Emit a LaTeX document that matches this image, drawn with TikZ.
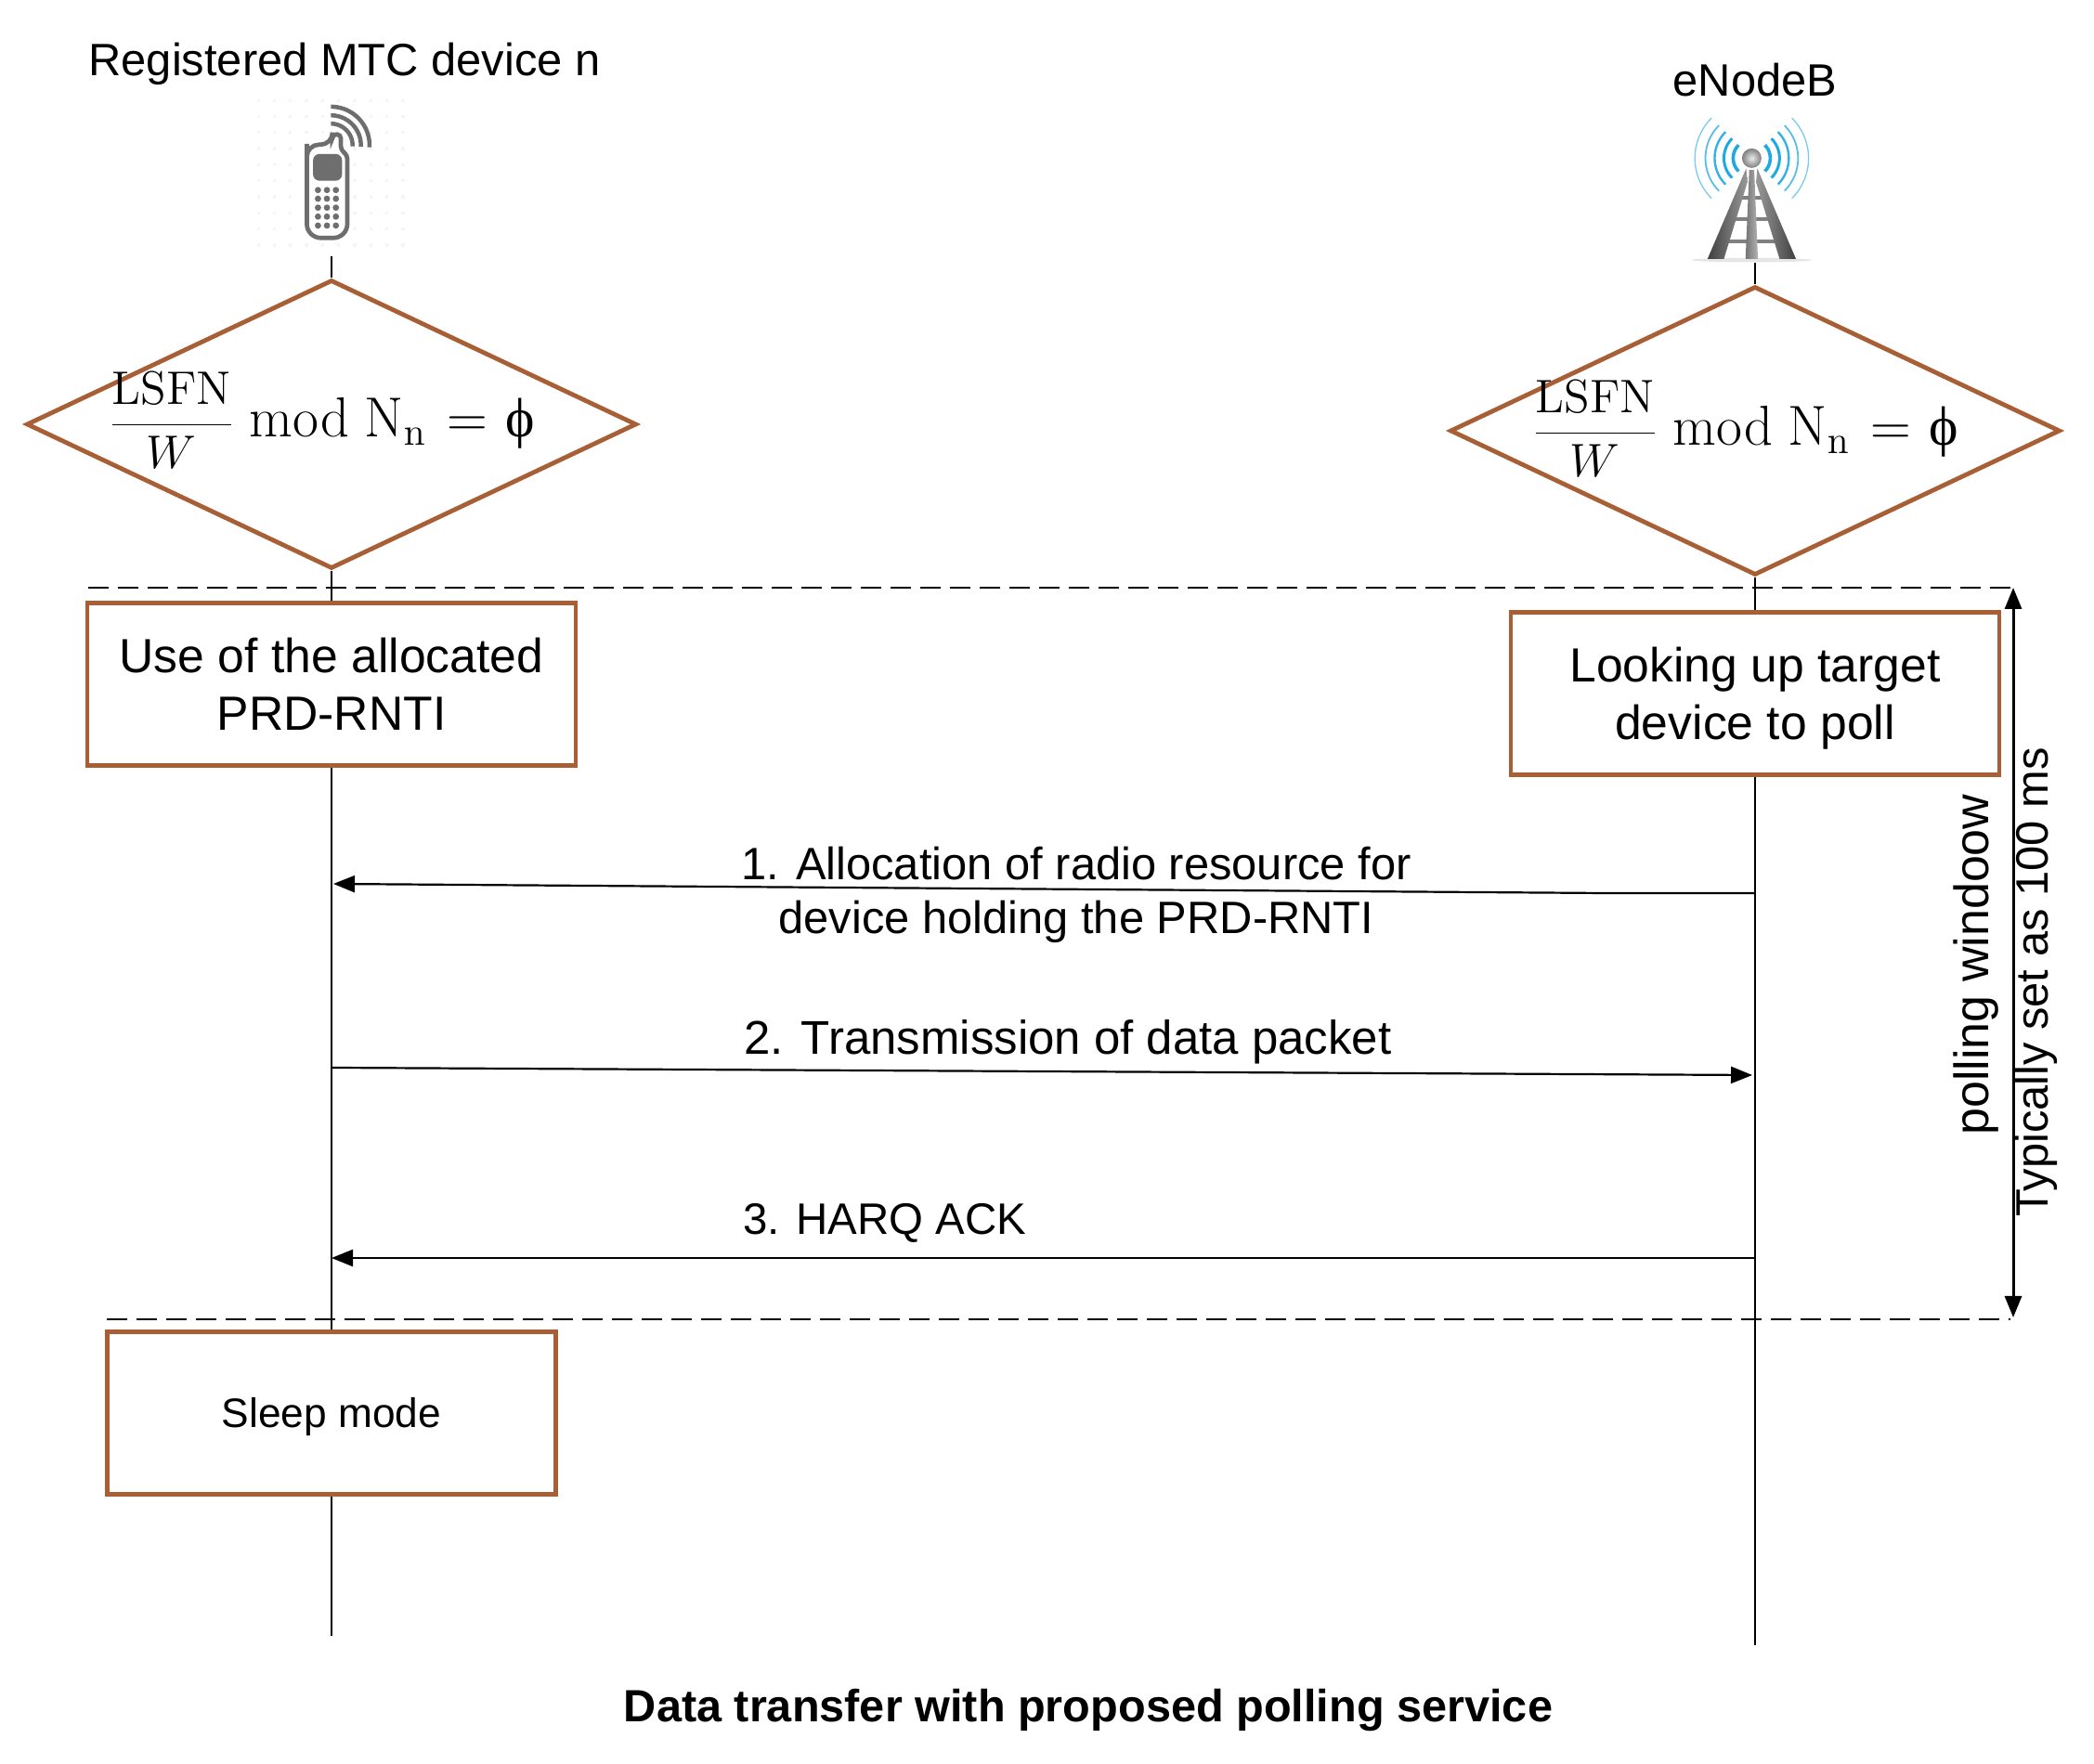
\documentclass[tikz,border=0pt]{standalone}
\usepackage[no-math]{fontspec}
\setmainfont{Liberation Sans}
\newfontfamily\formfont{Liberation Serif}
\usetikzlibrary{arrows.meta,shapes.geometric}
\definecolor{boxbrown}{HTML}{A95F35}
\definecolor{icongray}{HTML}{6E6E6E}
\definecolor{wavecyan}{HTML}{1FA9E1}
\newcommand{\lsfnformula}{{\fontsize{14.6}{18}\selectfont$\displaystyle\frac{\mathrm{LSFN}}{W}$}\hspace{0.16cm}$\mathrm{mod}\ \mathrm{N}_{\mathrm{n}}\hspace{0.05cm}=\hspace{0.02cm}\mbox{\formfont ϕ}$}

\begin{document}
\begin{tikzpicture}[
  x=1cm, y=1cm,
  decision/.style={draw=boxbrown, line width=0.048cm, diamond, shape aspect=2.11, minimum width=6.57cm, minimum height=3.11cm, inner sep=0pt},
  state/.style={draw=boxbrown, line width=0.048cm, minimum height=1.75cm, align=center, inner sep=0pt, font=\fontsize{14.7}{17.6}\selectfont},
  head/.style={font=\fontsize{13.9}{16}\selectfont, inner sep=0pt},
  msg/.style={font=\fontsize{13.9}{16.6}\selectfont, align=center, inner sep=0pt},
  formula/.style={font=\fontsize{17}{20}\selectfont, inner sep=0pt},
  life/.style={line width=0.022cm},
  arrow/.style={line width=0.022cm, -{Triangle[length=0.23cm, width=0.18cm]}},
  limit/.style={line width=0.022cm, dash pattern=on 0.22cm off 0.10cm},
  span/.style={line width=0.03cm, {Triangle[length=0.23cm, width=0.18cm]}-{Triangle[length=0.23cm, width=0.18cm]}}
]
\useasboundingbox (0,0) rectangle (22.55,19);

\node[head] (dev) at (3.71, 18.31) {Registered MTC device n};
\node[head] (enb) at (18.90, 18.14) {eNodeB};

\node[decision] (dl) at (3.57, 14.43) {};
\node[decision] (dr) at (18.90, 14.36) {};
\node[formula] (fl) at (3.46, 14.47) {\lsfnformula};
\node[formula] (fr) at (18.79, 14.38) {\lsfnformula};

\node[state, minimum width=5.26cm] (ua) at (3.57, 11.63) {Use of the allocated\\PRD-RNTI};
\node[state, minimum width=5.26cm] (lu) at (18.90, 11.53) {\raisebox{-0.055cm}[\height][\depth]{Looking up target}\\\raisebox{-0.055cm}[\height][\depth]{device to poll}};
\node[state, minimum width=4.83cm, font=\fontsize{12.6}{15}\selectfont] (sm) at (3.57, 3.78) {\raisebox{-0.04cm}[\height][\depth]{Sleep mode}};

\coordinate (lt) at (3.57, 16.24);
\coordinate (lb) at (3.57, 1.38);
\coordinate (rt) at (18.90, 16.17);
\coordinate (rb) at (18.90, 1.28);

\draw[life] (lt) -- (dl.north);
\draw[life] (dl.south) -- (ua.north);
\draw[life] (ua.south) -- (sm.north);
\draw[life] (sm.south) -- (lb);
\draw[life] (rt) -- (dr.north);
\draw[life] (dr.south) -- (lu.north);
\draw[life] (lu.south) -- (rb);

% polling window limits
\coordinate (wa) at (0.95, 12.67);
\coordinate (wb) at (21.68, 12.67);
\coordinate (wc) at (1.15, 4.79);
\coordinate (wd) at (21.65, 4.79);
\coordinate (we) at (21.68, 4.81);
\draw[limit] (wa) -- (wb);
\draw[limit] (wc) -- (wd);
\draw[span] (wb) -- (we);

\node[msg, rotate=90, font=\fontsize{14.8}{17}\selectfont] (pw) at (21.28, 8.61) {polling windoow};
\node[msg, rotate=90] (ts) at (21.93, 8.42) {Typically set as 100 ms};

% messages
\coordinate (m1a) at (18.90, 9.38);
\coordinate (m1b) at (17.26, 9.38);
\coordinate (m1c) at (3.59, 9.48);
\coordinate (m2a) at (3.57, 7.50);
\coordinate (m2b) at (18.87, 7.42);
\coordinate (m3a) at (18.90, 5.45);
\coordinate (m3b) at (3.57, 5.45);
\draw[arrow] (m1a) -- (m1b) -- (m1c);
\draw[arrow] (m2a) -- (m2b);
\draw[arrow] (m3a) -- (m3b);

\node[msg] (t1) at (11.59, 9.36) {1. Allocation of radio resource for\\device holding the PRD-RNTI};
\node[msg, font=\fontsize{14.5}{17}\selectfont] (t2) at (11.50, 7.78) {2. Transmission of data packet};
\node[msg, font=\fontsize{13.5}{16}\selectfont] (t3) at (9.53, 5.83) {3. HARQ ACK};
\node[font=\fontsize{13.84}{16}\selectfont\bfseries, inner sep=0pt] (cap) at (11.72, 0.58) {Data transfer with proposed polling service};

% phone icon
\begin{scope}[shift={(2.30,18.20)}, x=0.00333cm, y=-0.00333cm]
  \foreach \gx in {0,...,9}
    \foreach \gy in {0,...,9}
      \fill[black!4] (145+52*\gx-5, 85+52*\gy-5) rectangle ++(10,10);
  \draw[icongray, line width=0.047cm, fill=white, rounded corners=0.04cm] (302,270) [rounded corners=0.13cm] -- (302,228) -- (385,228) [rounded corners=0.04cm] -- (385,195) -- (412,195) -- (412,245) -- (433,262) [rounded corners=0.15cm] -- (433,530) -- (302,530) -- cycle;
  \fill[icongray, rounded corners=0.07cm] (322,258) rectangle (416,345);
  \foreach \kx in {338,367,396}
    \foreach \ky in {375,403,432,461,490}
      \fill[icongray] (\kx,\ky) circle[radius=0.034cm];
  \foreach \wr in {70,97,125}
    \draw[icongray, line width=0.045cm] plot[domain=-3:90, samples=25] ({380+\wr*cos(\x)},{230-\wr*sin(\x)});
\end{scope}

% tower icon
\begin{scope}[shift={(17.60,18.50)}, x=0.00333cm, y=-0.00333cm]
  \fill[black!10] (380,692) ellipse[x radius=195, y radius=7];
  \foreach \wr/\wl/\wo in {60/0.036/100,90/0.03/100,120/0.024/90,150/0.018/75,184/0.013/60} {
    \draw[wavecyan!\wo, line width=\wl cm] plot[domain=-45:45, samples=25] ({380+\wr*cos(\x)},{362-\wr*sin(\x)});
    \draw[wavecyan!\wo, line width=\wl cm] plot[domain=-45:45, samples=25] ({380-\wr*cos(\x)},{362-\wr*sin(\x)});
  }
  \foreach \ry/\rx in {490/40,560/64,630/86}
    \fill[black!50] (380-\rx,\ry-6) rectangle (380+\rx,\ry+6);
  \shade[left color=black!75, right color=black!40] (362,395) -- (237,688) -- (290,688) -- (366,440) -- cycle;
  \shade[left color=black!40, right color=black!75] (398,395) -- (523,688) -- (470,688) -- (394,440) -- cycle;
  \shade[left color=black!55, right color=black!30] (372,400) -- (388,400) -- (400,688) -- (360,688) -- cycle;
  \shade[inner color=black!8, outer color=black!50] (380,362) circle[radius=0.105cm];
\end{scope}
\end{tikzpicture}
\end{document}
